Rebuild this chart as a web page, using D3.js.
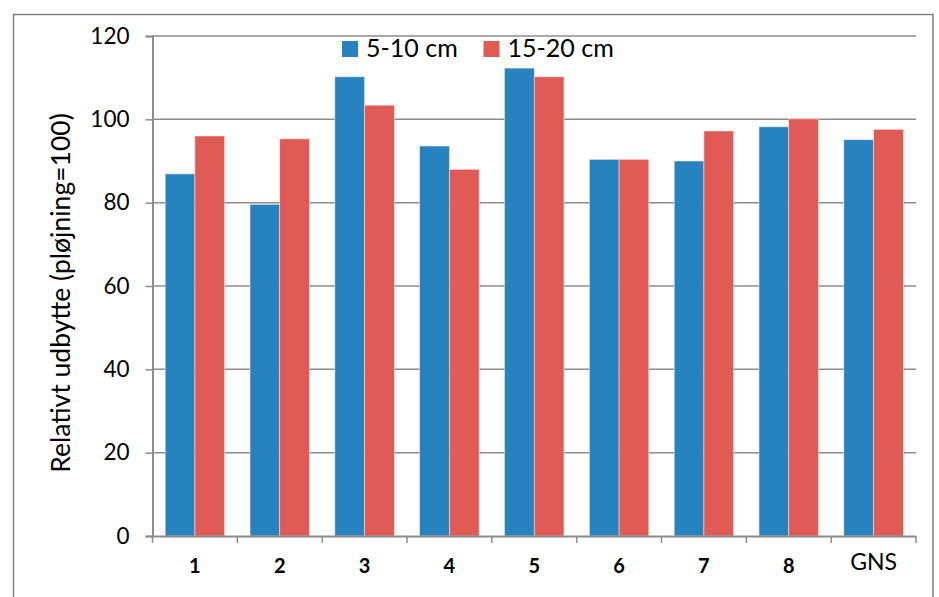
<!DOCTYPE html>
<html><head><meta charset="utf-8">
<script src="https://cdn.jsdelivr.net/npm/d3@7"></script>
<style>body{margin:0;background:#fff}svg{display:block}</style>
</head><body>
<script>
const categories = ["1","2","3","4","5","6","7","8","GNS"];
const series = ["5-10 cm","15-20 cm"];
const shallow = [86.9, 79.6, 110.2, 93.6, 112.3, 90.4, 90.0, 98.2, 95.1];
const deep = [96.0, 95.3, 103.4, 88.0, 110.2, 90.4, 97.2, 100.1, 97.6];
const yTicks = [0,20,40,60,80,100,120];
const colors = ["#2683C0","#E05A56"];

(function(){
const W = 939, H = 597;
const svg = d3.select("body").append("svg").attr("width", W).attr("height", H);
const font = "Lato, 'Open Sans', sans-serif";

// outer frame
svg.append("rect").attr("x",13.5).attr("y",14.5).attr("width",919.5).attr("height",600)
  .attr("fill","none").attr("stroke","#808080").attr("stroke-width",1.5);

const pl = 152.5, pr = 916, pt = 36, pb = 536;
const x = d3.scaleBand().domain(categories).range([pl, pr]).paddingInner(0).paddingOuter(0);
const y = d3.scaleLinear().domain([0,120]).range([pb, pt]);
const xs = d3.scaleBand().domain(series).range([0, x.bandwidth()]).paddingInner(0).paddingOuter(0.4266);

// gridlines
svg.append("g").selectAll("line").data(yTicks.filter(d=>d>0)).join("line")
  .attr("x1", pl).attr("x2", pr).attr("y1", d=>y(d)).attr("y2", d=>y(d))
  .attr("stroke","#8c8c8c").attr("stroke-width",1.5);

// y axis
const ya = svg.append("g").attr("transform",`translate(${pl},0)`)
  .call(d3.axisLeft(y).tickValues(yTicks).tickSize(7).tickPadding(16));
ya.select(".domain").attr("stroke","#8c8c8c").attr("stroke-width",2);
ya.selectAll(".tick line").attr("stroke","#8c8c8c").attr("stroke-width",1.5);
ya.selectAll(".tick text").attr("font-family",font).attr("font-size",22.5).attr("fill","#000");

// bars
const data = categories.map((c,i)=>({c, vals:[shallow[i], deep[i]]}));
const g = svg.append("g").selectAll("g").data(data).join("g")
  .attr("transform", d=>`translate(${x(d.c)},0)`);
g.selectAll("rect").data(d=>d.vals.map((v,j)=>({s:series[j], v, j}))).join("rect")
  .attr("x", d=>xs(d.s)).attr("width", xs.bandwidth())
  .attr("y", d=>y(d.v)).attr("height", d=>y(0)-y(d.v))
  .attr("fill", d=>colors[d.j]).attr("stroke","#f3dede").attr("stroke-width",0.6);

// x axis
const xa = svg.append("g").attr("transform",`translate(0,${pb})`)
  .call(d3.axisBottom(x).tickSize(0).tickFormat(""));
xa.select(".domain").attr("stroke","#8c8c8c").attr("stroke-width",2);
xa.selectAll(".tick").remove();
const bounds = categories.map(c=>x(c)).concat([pr]);
svg.append("g").selectAll("line").data(bounds).join("line")
  .attr("x1",d=>d).attr("x2",d=>d).attr("y1",pb).attr("y2",pb+7)
  .attr("stroke","#8c8c8c").attr("stroke-width",1.5);
svg.append("g").selectAll("text").data(categories).join("text")
  .attr("x", d=>x(d)+x.bandwidth()/2)
  .attr("y", d=> d==="GNS" ? 569.5 : 572.5)
  .attr("text-anchor","middle")
  .attr("font-family",font)
  .attr("font-weight", d=> d==="GNS" ? "normal" : "bold")
  .attr("font-size", d=> d==="GNS" ? 23 : 20)
  .attr("fill","#000").text(d=>d);

// y title
svg.append("text").attr("transform","translate(70,293) rotate(-90)")
  .attr("text-anchor","middle").attr("font-family",font).attr("font-size",26.5)
  .attr("fill","#000").text("Relativt udbytte (pløjning=100)");

// legend
const legX = [342, 483.5];
const lg = svg.append("g").selectAll("g").data(series).join("g")
  .attr("transform",(d,i)=>`translate(${legX[i]},41)`);
lg.append("rect").attr("width",16).attr("height",16).attr("fill",(d,i)=>colors[i]);
lg.append("text").attr("x",24).attr("y",16).attr("font-family",font).attr("font-size",25)
  .attr("fill","#000").text(d=>d);
})();
</script>
</body></html>
